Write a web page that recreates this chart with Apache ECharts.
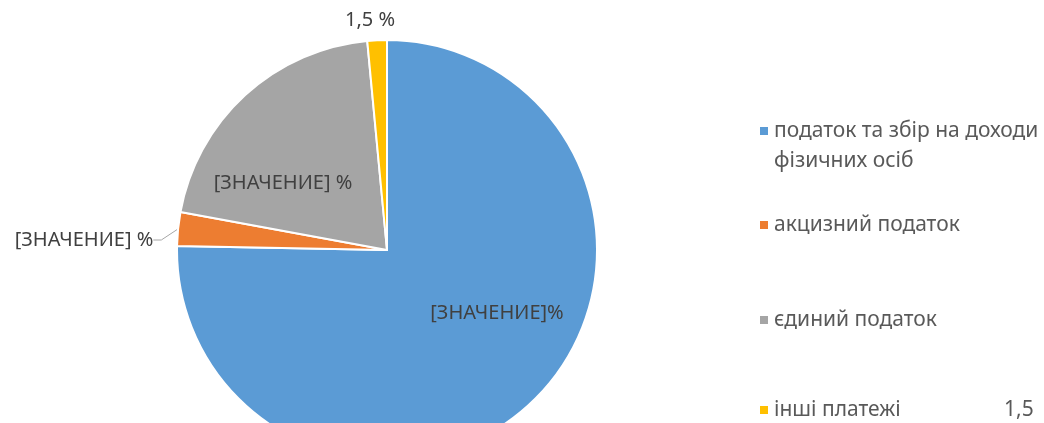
<!DOCTYPE html>
<html>
<head>
<meta charset="utf-8">
<script src="https://cdn.jsdelivr.net/npm/echarts@6/dist/echarts.min.js"></script>
<style>
	html, body { margin: 0; padding: 0; background: #fff; }
	#chart { width: 1044px; height: 423px; }
</style>
</head>
<body>
<div id="chart"></div>
<script>
	// категорії та частки (%)
	var categories = ['податок та збір на доходи фізичних осіб', 'акцизний податок', 'єдиний податок', 'інші платежі']
	var shares = [75.3, 2.6, 20.6, 1.5]
	var labelTexts = ['[ЗНАЧЕНИЕ]%', '[ЗНАЧЕНИЕ] %', '[ЗНАЧЕНИЕ] %', null]
	var colors = ['#5b9bd5', '#ed7d31', '#a5a5a5', '#ffc000']

	var fmt = function (v) { return String(v).replace('.', ',') }

	var chart = echarts.init(document.getElementById('chart'))

	var txt = { fontFamily: 'Noto Sans', fontSize: 21, color: '#595959', lineHeight: 30 }

	var legendTops = [86, 210, 305, 395]
	var legends = categories.map(function (name, i) {
		var lg = {
			data: [name],
			left: 758,
			top: legendTops[i],
			padding: 0,
			orient: 'vertical',
			icon: 'rect',
			itemWidth: 10,
			itemHeight: 10,
			itemGap: 5,
			selectedMode: false,
			textStyle: echarts.util.clone(txt)
		}
		if (i === 0) {
			// порожній рядок зверху, щоб значок стояв навпроти першого рядка
			lg.formatter = function () { return '{e|}\n{t|податок та збір на доходи}\n{t|фізичних осіб}' }
			lg.textStyle.rich = {
				e: { height: 30, lineHeight: 30 },
				t: echarts.util.clone(txt)
			}
		}
		if (i === 3) {
			lg.formatter = function (n) { return '{n|' + n + '}{v|' + fmt(shares[3]) + '}' }
			lg.textStyle.rich = {
				n: echarts.util.extend({ width: 230 }, txt),
				v: echarts.util.clone(txt)
			}
		}
		return lg
	})

	// позиції підписів
	var labelPos = [[497, 313], [84, 240], [283, 183], [370, 20]]

	chart.setOption({
		animation: false,
		legend: legends,
		series: [{
			type: 'pie',
			center: [387, 250],
			radius: 210,
			startAngle: 90,
			clockwise: true,
			avoidLabelOverlap: false,
			itemStyle: { borderColor: '#fff', borderWidth: 2 },
			label: {
				show: true,
				position: 'inside',
				fontFamily: 'Noto Sans',
				fontSize: 20,
				color: '#404040',
				formatter: function (p) {
					return labelTexts[p.dataIndex] || (fmt(p.value) + ' %')
				}
			},
			labelLine: { lineStyle: { color: '#a6a6a6', width: 1 } },
			labelLayout: function (p) {
				var pos = labelPos[p.dataIndex]
				return { x: pos[0], y: pos[1], align: 'center', verticalAlign: 'middle' }
			},
			data: categories.map(function (name, i) {
				var d = { name: name, value: shares[i], itemStyle: { color: colors[i] } }
				if (i === 1) {
					d.label = { position: 'outside' }
					d.labelLine = { show: true, length: 8, length2: 8 }
				}
				if (i === 3) {
					d.label = { position: 'outside' }
					d.labelLine = { show: false }
				}
				return d
			})
		}]
	})
</script>
</body>
</html>
